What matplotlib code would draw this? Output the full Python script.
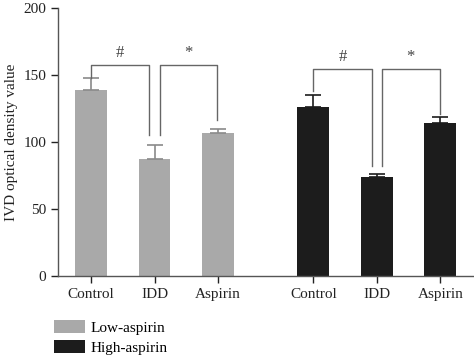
import matplotlib
matplotlib.use("Agg")
import matplotlib.pyplot as plt
from matplotlib.patches import Patch

groups = ["Control", "IDD", "Aspirin"]
low_vals = [139, 87.5, 107]
low_err = [8.5, 10, 2.8]
high_vals = [126, 73.6, 114]
high_err = [9, 2.7, 4.7]

# significance brackets: (x_left, x_right, y_left_end, y_right_end, y_top, symbol)
low_brackets = [(0.0, 0.91, 148, 105, 157, "#"), (1.09, 1.99, 105, 116, 157, "*")]
high_brackets = [(3.5, 4.42, 138, 82, 154, "#"), (4.58, 5.49, 82, 121, 154, "*")]

plt.rcParams['font.family'] = ['Liberation Serif', 'DejaVu Serif']

fig = plt.figure(figsize=(4.74, 3.6), dpi=100)
ax = fig.add_axes([0.1224, 0.2333, 0.8776, 0.745])

low_x = [0, 1, 2]
high_x = [3.5, 4.5, 5.5]
gray = "#a9a9a9"
dark = "#1c1c1c"

ax.bar(low_x, low_vals, width=0.5, color=gray, zorder=2)
ax.errorbar(low_x, low_vals, yerr=[[0]*3, low_err], fmt="none", ecolor="#8a8a8a",
            elinewidth=1.2, capsize=6, capthick=1.2, zorder=3)
ax.bar(high_x, high_vals, width=0.5, color=dark, zorder=2)
ax.errorbar(high_x, high_vals, yerr=[[0]*3, high_err], fmt="none", ecolor=dark,
            elinewidth=1.2, capsize=6, capthick=1.2, zorder=3)

for x1, x2, y1, y2, yt, sym in low_brackets + high_brackets:
    ax.plot([x1, x1, x2, x2], [y1, yt, yt, y2], color="#666666", lw=1.0, zorder=4)
    ax.text((x1 + x2) / 2, yt + 3, sym, ha="center", va="bottom", fontsize=12, color="#444444")

ax.set_xlim(-0.52, 6.03)
ax.set_ylim(0, 200)
ax.set_yticks([0, 50, 100, 150, 200])
ax.set_xticks(low_x + high_x)
ax.set_xticklabels(groups + groups)
ax.tick_params(labelsize=11, colors="#222222", length=5, width=1, direction="out")
for s in ["top", "right"]:
    ax.spines[s].set_visible(False)
for s in ["left", "bottom"]:
    ax.spines[s].set_color("#555555")
    ax.spines[s].set_linewidth(1)
ax.set_ylabel("IVD optical density value", fontsize=11, color="#222222")

handles = [Patch(facecolor=gray, label="Low-aspirin"), Patch(facecolor=dark, label="High-aspirin")]
fig.legend(handles=handles, loc="upper left", bbox_to_anchor=(0.114, 0.11), frameon=False,
           fontsize=11, handlelength=2.0, handleheight=0.9, labelspacing=0.35, handletextpad=0.4,
           borderaxespad=0, borderpad=0)

fig.savefig("out.png", dpi=100)
